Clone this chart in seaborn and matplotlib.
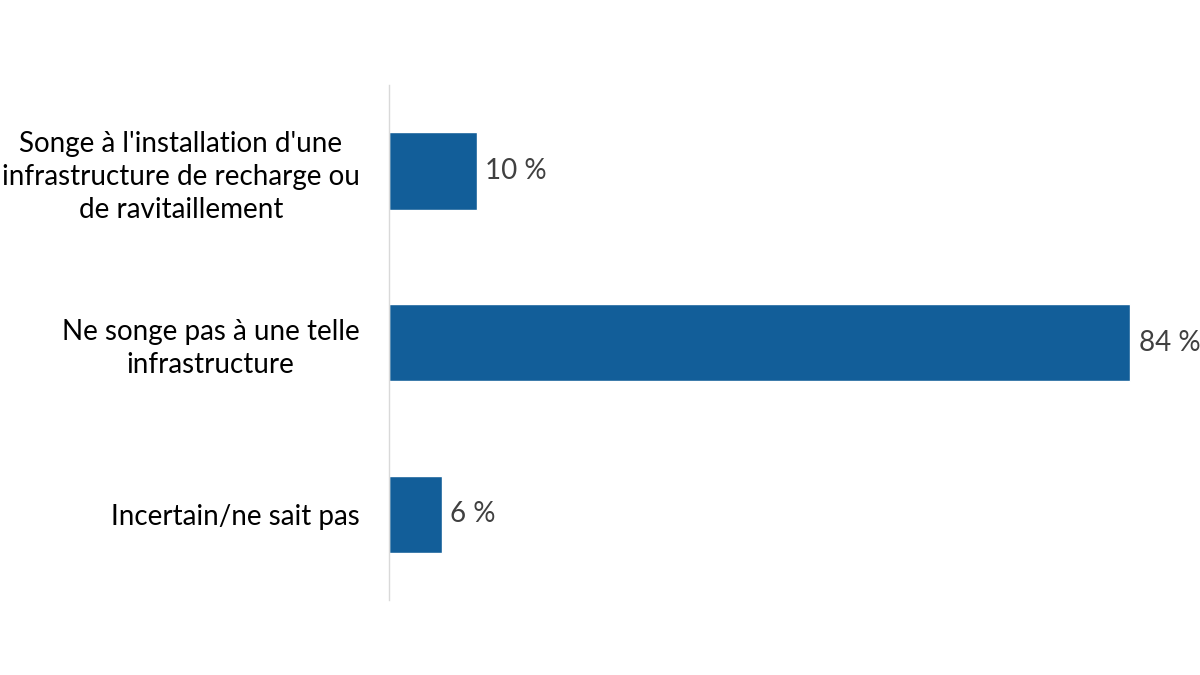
import matplotlib
matplotlib.use("Agg")
import matplotlib.pyplot as plt
import seaborn as sns
import pandas as pd

categories = [
    "Songe à l'installation d'une\ninfrastructure de recharge ou\nde ravitaillement",
    "Ne songe pas à une telle\ninfrastructure",
    "Incertain/ne sait pas",
]
values = [10, 84, 6]
value_labels = ["10 %", "84 %", "6 %"]

df = pd.DataFrame({"categorie": categories, "pct": values})

sns.set_style("white")
plt.rcParams["font.family"] = ["Lato", "DejaVu Sans"]

fig = plt.figure(figsize=(12, 6.75), dpi=100)
ax = fig.add_axes([0.324, 0.111, 0.662, 0.763])

sns.barplot(data=df, x="pct", y="categorie", color="#125E99", width=0.45,
            saturation=1, ax=ax)

for i, (v, lab) in enumerate(zip(values, value_labels)):
    ax.annotate(lab, xy=(v, i), xytext=(6, 0), textcoords="offset points",
                va="center", ha="left", fontsize=20, color="#404040")

ax.set_xlim(0, 90)
ax.set_ylim(2.5, -0.5)
ax.set_xlabel("")
ax.set_ylabel("")
ax.set_xticks([])
ax.tick_params(axis="y", length=0, pad=21, labelsize=20)
for lbl in ax.get_yticklabels():
    lbl.set_multialignment("center")
    lbl.set_linespacing(1.35)
    lbl.set_color("black")

for side in ["top", "right", "bottom"]:
    ax.spines[side].set_visible(False)
ax.spines["left"].set_color("#D9D9D9")
ax.spines["left"].set_linewidth(1)

fig.savefig("out.png", dpi=100)
